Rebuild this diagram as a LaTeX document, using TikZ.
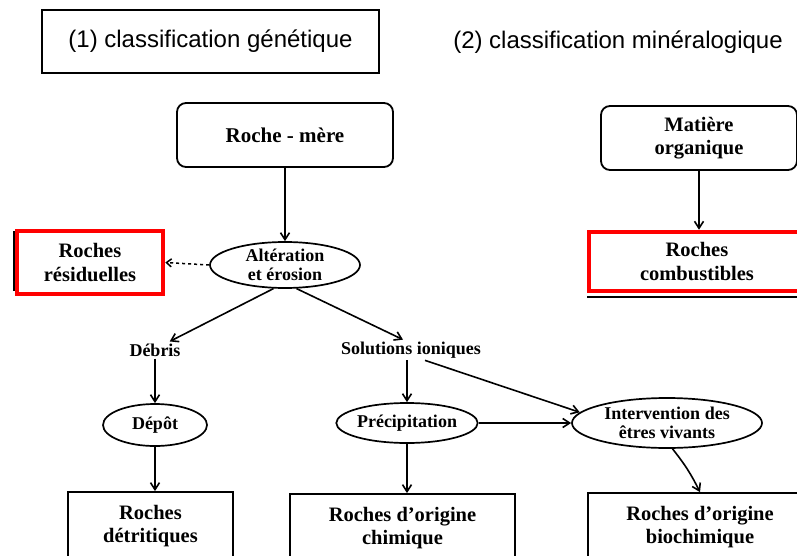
\documentclass[tikz,border=0pt]{standalone}
\usepackage{fontspec}
\setmainfont{Liberation Serif}
\newfontfamily\titlefont{Liberation Sans}
\usetikzlibrary{arrows.meta,shapes.geometric,calc}
\begin{document}
\begin{tikzpicture}[x=1pt,y=-1pt,
  boxtxt/.style={font=\fontsize{20.5}{23.5}\selectfont\bfseries, align=center},
  smalltxt/.style={font=\fontsize{18}{19}\selectfont\bfseries, align=center},
  bx/.style={draw, line width=1.8pt, rectangle, inner sep=0pt, boxtxt},
  rbx/.style={bx, rounded corners=9pt},
  redbx/.style={draw=red, line width=4.5pt, rectangle, inner sep=0pt, boxtxt},
  ell/.style={draw, ellipse, line width=1.7pt, inner sep=0pt, smalltxt},
  lbl/.style={inner sep=2pt, smalltxt},
  arr/.style={line width=1.6pt, -{Straight Barb[length=7pt,width=9pt,line width=1.6pt]}},
  darr/.style={line width=1.5pt, dash pattern=on 3pt off 3pt, -{Straight Barb[length=5pt,width=8pt,line width=1.5pt]}},
]
\useasboundingbox (0,0) rectangle (797,556);
\fill[white] (0,0) rectangle (797,556);

% titles
\node[draw, line width=2.4pt, minimum width=337pt, minimum height=63pt, inner sep=0pt,
      font=\titlefont\fontsize{24}{28}\selectfont] (t1) at (210.5,41.5) {(1) classification génétique};
\node[inner sep=0pt, font=\titlefont\fontsize{24}{28}\selectfont] (t2) at (618,42) {(2) classification minéralogique};

% nodes
\node[rbx, minimum width=216pt, minimum height=64pt, font=\fontsize{21}{24}\selectfont\bfseries] (rm) at (285,135) {Roche - mère};
\node[rbx, minimum width=196pt, minimum height=64pt] (mo) at (699,138) {Matière\\organique};

\draw[line width=1.6pt] (14,231) -- (14,291);
\node[redbx, minimum width=146pt, minimum height=63pt] (res) at (90,262.5) {Roches\\résiduelles};

\draw[line width=1.6pt] (587,297) -- (797,297);
\node[redbx, minimum width=216pt, minimum height=59pt] (comb) at (697,261.5) {Roches\\combustibles};

\node[ell, minimum width=150pt, minimum height=46pt] (alt) at (285,265) {Altération\\et érosion};
\node[lbl] (debris) at (155,350) {Débris};
\node[lbl] (sol) at (411,350) {Solutions ioniques};
\node[ell, minimum width=104pt, minimum height=42pt] (depot) at (155,425) {Dépôt};
\node[ell, minimum width=120pt, minimum height=40pt] (precip) at (407,423) {Précipitation};
\node[ell, minimum width=190pt, minimum height=50pt] (interv) at (667,423) {Intervention des\\êtres vivants};

\node[bx, minimum width=165pt, minimum height=68pt] (det) at (150.5,526) {Roches\\détritiques};
\node[bx, minimum width=225pt, minimum height=68pt] (chim) at (402.5,528) {Roches d'origine\\chimique};
\node[bx, minimum width=224pt, minimum height=68pt] (bio) at (700,527) {Roches d'origine\\biochimique};

% connectors
\draw[arr] (rm) -- (alt);
\draw[darr] (alt.west) -- (res.east);
\draw[arr] (alt.244) -- ([xshift=-13pt]debris.north east);
\draw[arr] (alt.296) -- ([xshift=-8pt]sol.north);
\draw[arr] (debris) -- (depot);
\draw[arr] (sol.south -| precip.north) -- (precip.north);
\draw[arr] ([xshift=14pt]sol.south) -- (interv.173);
\draw[arr] (precip) -- (interv);
\draw[arr] (depot.south) -- (depot.south |- det.north);
\draw[arr] (precip.south) -- (precip.south |- chim.north);
\draw[arr] (interv.282) to[bend left=6] (bio.north);
\draw[arr] (mo.south) -- (mo.south |- comb.north);
\end{tikzpicture}
\end{document}
